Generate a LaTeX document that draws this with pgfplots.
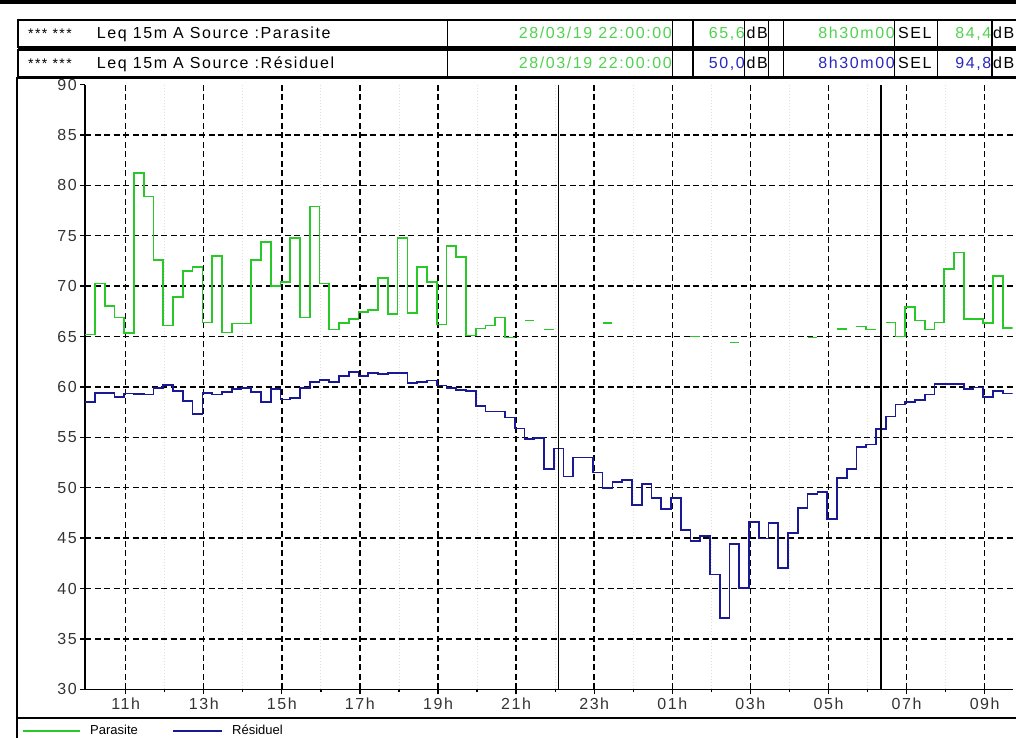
\documentclass[border=0pt]{standalone}
\usepackage{fontspec}
\setmainfont{Liberation Sans}
\newfontfamily\lsans{Liberation Sans}[LetterSpace=10]
\usepackage{pgfplots}
\pgfplotsset{compat=1.18}
\definecolor{parasite}{RGB}{40,200,40}
\definecolor{residuel}{RGB}{25,25,150}
\definecolor{hdrgreen}{RGB}{80,210,80}
\definecolor{hdrblue}{RGB}{40,40,190}
\newcommand\hfont{\lsans\fontsize{16}{18}\selectfont}

\begin{document}
\begin{tikzpicture}[x=1pt,y=1pt]
\useasboundingbox (0,0) rectangle (1016,737);
% top bar
\fill[black] (0,733) rectangle (1016,737);
% header rows
\begin{scope}[line width=1.3pt]
  \draw (18,690) rectangle (1020,717);
  \draw (18,660) rectangle (1020,687);
  \fill (18,686.5) rectangle (1020,690.5);
  \foreach \x in {447.4,672.6,693,744.6,768.6,783.4,894.2,937.6,992}{
    \draw (\x,690)--(\x,717);
    \draw (\x,660)--(\x,687);
  }
\end{scope}
\begin{scope}[every node/.style={inner sep=0pt}]
  \node[anchor=base west, font=\lsans\fontsize{14}{14}\selectfont] at (28,698.7) {*** ***};
  \node[anchor=base west, font=\hfont] at (96.7,698.7) {Leq 15m A Source :Parasite};
  \node[anchor=base east, font=\hfont, text=hdrgreen] at (672,698.7) {28/03/19 22:00:00};
  \node[anchor=base east, font=\hfont, text=hdrgreen] at (745,698.7) {65,6};
  \node[anchor=base west, font=\hfont] at (746.5,698.7) {dB};
  \node[anchor=base east, font=\hfont, text=hdrgreen] at (895,698.7) {8h30m00};
  \node[anchor=base west, font=\hfont] at (898,698.7) {SEL};
  \node[anchor=base east, font=\hfont, text=hdrgreen] at (991.5,698.7) {84,4};
  \node[anchor=base west, font=\hfont] at (993,698.7) {dB};

  \node[anchor=base west, font=\lsans\fontsize{14}{14}\selectfont] at (28,668.7) {*** ***};
  \node[anchor=base west, font=\hfont] at (96.7,668.7) {Leq 15m A Source :Résiduel};
  \node[anchor=base east, font=\hfont, text=hdrgreen] at (672,668.7) {28/03/19 22:00:00};
  \node[anchor=base east, font=\hfont, text=hdrblue] at (745,668.7) {50,0};
  \node[anchor=base west, font=\hfont] at (746.5,668.7) {dB};
  \node[anchor=base east, font=\hfont, text=hdrblue] at (895,668.7) {8h30m00};
  \node[anchor=base west, font=\hfont] at (898,668.7) {SEL};
  \node[anchor=base east, font=\hfont, text=hdrblue] at (991.5,668.7) {94,8};
  \node[anchor=base west, font=\hfont] at (993,668.7) {dB};
\end{scope}
% outer frame of the chart
\draw[line width=1.3pt] (17,-5) -- (17,659) -- (1020,659);
\draw[line width=1.3pt] (17,19) -- (1020,19);

\begin{axis}[
  at={(87.3,47.3)}, anchor=south west,
  scale only axis, width=927.4pt, height=604.8pt,
  xmin=0, xmax=95, ymin=30, ymax=90,
  axis x line*=bottom, axis y line*=left,
  axis line style={line width=1.5pt},
  tick align=outside, major tick length=5pt,
  tick style={black, line width=1.3pt},
  xtick={4.14,12.14,20.14,28.14,36.14,44.14,52.14,60.14,68.14,76.14,84.14,92.14},
  xticklabels={11h,13h,15h,17h,19h,21h,23h,01h,03h,05h,07h,09h},
  minor xtick={8.14,16.14,24.14,32.14,40.14,48.14,56.14,64.14,72.14,80.14,88.14},
  ytick={30,35,...,85},
  extra y ticks={90},
  extra y tick style={grid=none},
  xmajorgrids, ymajorgrids, xminorgrids,
  major grid style={black, line width=1.5pt, dash pattern=on 6pt off 3.5pt},
  minor grid style={black!12, line width=0.8pt, dash pattern=on 1pt off 2pt},
  ticklabel style={font=\lsans\fontsize{16}{16}\selectfont, text=black!80},
  /pgf/number format/assume math mode=true,
  unbounded coords=jump,
  clip=true,
]
% Residuel, 15 min steps
\addplot[residuel, line width=1.7pt, const plot] coordinates {
(0,58.53) (1,59.41) (2,59.41) (3,59.02) (4,59.35) (5,59.3) (6,59.25) (7,59.9)
(8,60.16) (9,59.58) (10,58.6) (11,57.29) (12,59.41) (13,59.25) (14,59.48) (15,59.8)
(16,59.9) (17,59.48) (18,58.5) (19,59.8) (20,58.76) (21,58.9) (22,59.9) (23,60.49)
(24,60.69) (25,60.49) (26,61.05) (27,61.5) (28,61.05) (29,61.37) (30,61.31) (31,61.37)
(32,61.37) (33,60.39) (34,60.49) (35,60.65) (36,60.13) (37,59.9) (38,59.67) (39,59.58)
(40,58.1) (41,57.55) (42,57.55) (43,56.96) (44,55.88) (45,54.8) (46,54.9) (47,51.85)
(48,53.9) (49,51.1) (50,53.0) (51,53.0) (52,51.5) (53,50.0) (54,50.6) (55,50.75)
(56,48.27) (57,50.4) (58,49.0) (59,47.87) (60,48.97) (61,45.8) (62,44.73) (63,45.2)
(64,41.4) (65,37.1) (66,44.4) (67,40.08) (68,46.6) (69,44.96) (70,46.5) (71,42.07)
(72,45.5) (73,48.0) (74,49.4) (75,49.6) (76,46.9) (77,50.94) (78,51.85) (79,54.07)
(80,54.3) (81,55.86) (82,57.07) (83,58.27) (84,58.47) (85,58.7) (86,59.25) (87,60.26)
(88,60.26) (89,60.26) (90,59.77) (91,59.93) (92,59.0) (93,59.6) (94,59.35) (95,59.35)
};
% Parasite, with gaps where no value
\addplot[parasite, line width=1.7pt, const plot] coordinates {
(0,65.2) (1,70.25) (2,68.0) (3,66.9) (4,65.35) (5,81.2) (6,78.9) (7,72.6)
(8,66.1) (9,68.9) (10,71.5) (11,71.9) (12,66.4) (13,73.0) (14,65.4) (15,66.3)
(16,66.3) (17,72.6) (18,74.35) (19,70.0) (20,70.4) (21,74.8) (22,66.9) (23,77.9)
(24,70.25) (25,65.7) (26,66.35) (27,66.75) (28,67.45) (29,67.6) (30,70.8) (31,67.2)
(32,74.8) (33,67.3) (34,71.9) (35,70.4) (36,66.2) (37,74.0) (38,72.9) (39,65.1)
(40,65.8) (41,66.1) (42,66.9) (43,64.9) (44,64.9) (44,nan)
(45,66.6) (46,66.6) (46,nan)
(47,65.7) (48,65.7) (48,nan)
(53,66.35) (54,66.35) (54,nan)
(62,65.0) (63,65.0) (63,nan)
(66,64.4) (67,64.4) (67,nan)
(74,64.9) (75,64.9) (75,nan)
(77,65.75) (78,65.75) (78,nan)
(79,66.0) (80,65.7) (81,65.7) (81,nan)
(82,66.4) (83,65.0) (84,67.9) (85,66.6) (86,65.7) (87,66.4) (88,71.7) (89,73.35)
(90,66.75) (91,66.75) (92,66.35) (93,71.0) (94,65.85) (95,65.85)
};
% period markers
\addplot[black, line width=1.6pt] coordinates {(48.5,30) (48.5,90)};
\addplot[black, line width=1.6pt] coordinates {(81.5,30) (81.5,90)};
\end{axis}

% legend strip
\draw[parasite, line width=1.4pt] (23,6) -- (80,6);
\node[anchor=base west, inner sep=0pt, font=\fontsize{13}{14}\selectfont] at (90,3) {Parasite};
\draw[residuel, line width=1.4pt] (173,6) -- (222,6);
\node[anchor=base west, inner sep=0pt, font=\fontsize{13}{14}\selectfont] at (232,3) {Résiduel};
\end{tikzpicture}
\end{document}
